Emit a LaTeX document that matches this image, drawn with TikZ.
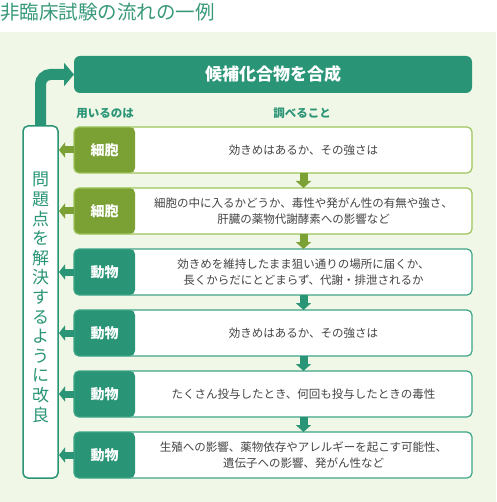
\documentclass[tikz,border=0pt]{standalone}
\usepackage{fontspec}
\setmainfont{Noto Sans CJK JP}
\usepackage{xcolor}
\usepackage{tikz}
\usetikzlibrary{arrows.meta, positioning}

\definecolor{paper}{HTML}{F1F7E6}
\definecolor{leaf}{HTML}{7BA135}
\definecolor{leafline}{HTML}{9CC45A}
\definecolor{sea}{HTML}{2A9576}
\definecolor{sealine}{HTML}{3DA587}
\definecolor{ink}{HTML}{444444}
\definecolor{heading}{HTML}{38997B}

\begin{document}
\begin{tikzpicture}[
    x=1pt, y=-1pt,
    node distance=15pt,
    title/.style={
        anchor=west,
        inner sep=0pt,
        text=heading,
        font=\fontsize{19.5pt}{22pt}\selectfont
    },
    synthbox/.style={
        rectangle,
        rounded corners=6pt,
        fill=sea,
        text=white,
        outer sep=0pt,
        minimum width=398pt,
        minimum height=37pt,
        font=\bfseries\fontsize{17pt}{20pt}\selectfont
    },
    colhead/.style={
        inner sep=0pt,
        text=sea,
        font=\bfseries\fontsize{11.5pt}{14pt}\selectfont
    },
    row/.style={
        rectangle,
        rounded corners=5pt,
        draw=#1line,
        line width=1.2pt,
        outer sep=0pt,
        fill=white,
        minimum width=398pt,
        minimum height=46pt,
        path picture={
            \fill[#1] (path picture bounding box.south west)
                rectangle ([xshift=61pt]path picture bounding box.north west);
        }
    },
    tagtext/.style={
        text=white,
        font=\bfseries\fontsize{14pt}{16pt}\selectfont
    },
    desc/.style={
        align=center,
        text=ink,
        font=\fontsize{11.5pt}{16pt}\selectfont
    },
    fixbox/.style={
        rectangle,
        rounded corners=5pt,
        draw=sea,
        line width=1.5pt,
        outer sep=0pt,
        fill=white,
        minimum width=35pt,
        minimum height=352pt
    },
    fixtext/.style={
        align=center,
        inner sep=0pt,
        text=sea,
        font=\fontsize{17pt}{19.6pt}\selectfont
    },
    looparrow/.style={
        draw=sea,
        line width=11pt,
        rounded corners=10pt,
        -{Triangle[length=10pt, width=23pt]}
    },
    backarrow/.style={
        draw=#1,
        line width=7pt,
        shorten >=1pt,
        -{Triangle[length=6pt, width=15pt]}
    },
    downarrow/.style={
        draw=#1,
        line width=8pt,
        -{Triangle[length=7pt, width=15pt]}
    }
]

\useasboundingbox (0,0) rectangle (496,502);
\fill[paper] (0,32) rectangle (496,502);

\node[title] (head) at (0,12.5) {非臨床試験の流れの一例};

\node[synthbox] (synth) at (273,74.5) {候補化合物を合成};

% rows
\node[row=leaf, below=34pt of synth] (r1) {};
\node[tagtext] (t1) at ([xshift=30.5pt]r1.west) {細胞};
\node[desc] (d1) at ([xshift=30.5pt]r1.center) {効きめはあるか、その強さは};

\node[row=leaf, below=of r1] (r2) {};
\node[tagtext] (t2) at ([xshift=30.5pt]r2.west) {細胞};
\node[desc] (d2) at ([xshift=30.5pt]r2.center) {
    細胞の中に入るかどうか、毒性や発がん性の有無や強さ、\\
    肝臓の薬物代謝酵素への影響など
};

\node[row=sea, below=of r2] (r3) {};
\node[tagtext] (t3) at ([xshift=30.5pt]r3.west) {動物};
\node[desc] (d3) at ([xshift=30.5pt]r3.center) {
    効きめを維持したまま狙い通りの場所に届くか、\\
    長くからだにとどまらず、代謝・排泄されるか
};

\node[row=sea, below=of r3] (r4) {};
\node[tagtext] (t4) at ([xshift=30.5pt]r4.west) {動物};
\node[desc] (d4) at ([xshift=30.5pt]r4.center) {効きめはあるか、その強さは};

\node[row=sea, below=of r4] (r5) {};
\node[tagtext] (t5) at ([xshift=30.5pt]r5.west) {動物};
\node[desc] (d5) at ([xshift=30.5pt]r5.center) {たくさん投与したとき、何回も投与したときの毒性};

\node[row=sea, below=of r5] (r6) {};
\node[tagtext] (t6) at ([xshift=30.5pt]r6.west) {動物};
\node[desc] (d6) at ([xshift=30.5pt]r6.center) {
    生殖への影響、薬物依存やアレルギーを起こす可能性、\\
    遺伝子への影響、発がん性など
};

% column headings
\node[colhead] (use) at (105,113.5) {用いるのは};
\node[colhead] (check) at (302,113.5) {調べること};

% improvement loop
\node[fixbox] (fix) at (40.5,302) {};
\node[fixtext] (fixlabel) at ([yshift=4.5pt]fix.center) {
    問\\題\\点\\を\\解\\決\\す\\る\\よ\\う\\に\\改\\良
};

\draw[looparrow] (fix.north) |- (synth.west);

\draw[backarrow=leaf] (r1.west) -- (r1.west -| fix.east);
\draw[backarrow=leaf] (r2.west) -- (r2.west -| fix.east);
\draw[backarrow=sea] (r3.west) -- (r3.west -| fix.east);
\draw[backarrow=sea] (r4.west) -- (r4.west -| fix.east);
\draw[backarrow=sea] (r5.west) -- (r5.west -| fix.east);
\draw[backarrow=sea] (r6.west) -- (r6.west -| fix.east);

\draw[downarrow=leaf] (r1.south -| d1) -- (r2.north -| d1);
\draw[downarrow=leaf] (r2.south -| d1) -- (r3.north -| d1);
\draw[downarrow=sea] (r3.south -| d1) -- (r4.north -| d1);
\draw[downarrow=sea] (r4.south -| d1) -- (r5.north -| d1);
\draw[downarrow=sea] (r5.south -| d1) -- (r6.north -| d1);

\end{tikzpicture}
\end{document}
